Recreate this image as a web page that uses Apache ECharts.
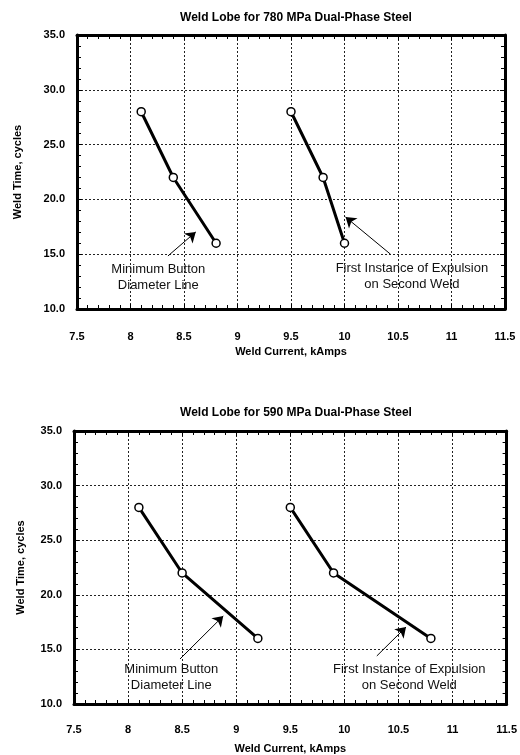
<!DOCTYPE html>
<html>
<head>
<meta charset="utf-8">
<script src="https://cdn.jsdelivr.net/npm/echarts@6/dist/echarts.min.js"></script>
<style>
html, body { margin: 0; padding: 0; background: #fff; }
#chart { width: 520px; height: 755px; }
</style>
</head>
<body>
<div id="chart"></div>
<script>
// chart data
var titles = ['Weld Lobe for 780 MPa Dual-Phase Steel', 'Weld Lobe for 590 MPa Dual-Phase Steel'];
var weldTime = [28, 22, 16];
var buttonCurrent780 = [8.1, 8.4, 8.8];
var expulsionCurrent780 = [9.5, 9.8, 10.0];
var buttonCurrent590 = [8.1, 8.5, 9.2];
var expulsionCurrent590 = [9.5, 9.9, 10.8];
var xTicks = [7.5, 8, 8.5, 9, 9.5, 10, 10.5, 11, 11.5];
var yTicks = [10, 15, 20, 25, 30, 35];
var noteButton = 'Minimum Button\nDiameter Line';
var noteExpulsion = 'First Instance of Expulsion\non Second Weld';
// annotation anchors in data units [x, y]
var textButton = [[8.26, 12.87], [8.40, 12.47]];
var textExpulsion = [[10.63, 12.95], [10.60, 12.47]];
var arrowButton = [[[8.35, 14.84], [8.61, 17.03]], [[8.48, 14.12], [8.88, 18.06]]];
var arrowExpulsion = [[[10.43, 15.0], [10.01, 18.39]], [[10.30, 14.40], [10.57, 17.05]]];

var FONT = '"Liberation Sans", Arial, sans-serif';

function pairs(xs, ys) {
    var out = [];
    for (var i = 0; i < xs.length; i++) out.push([xs[i], ys[i]]);
    return out;
}

var grids = [
    {left: 77, top: 35, width: 428, height: 274},
    {left: 74, top: 431, width: 434, height: 273}
];
var yNameGap = [54, 48];

var xAxes = [], yAxes = [], series = [];
var axisLine = {show: true, onZero: false, lineStyle: {color: '#000', width: 3}};

for (var g = 0; g < 2; g++) {
    // bottom x axis with labels and grid lines
    xAxes.push({
        type: 'value', gridIndex: g, position: 'bottom',
        min: xTicks[0], max: xTicks[xTicks.length - 1], interval: 0.5,
        name: 'Weld Current, kAmps', nameLocation: 'middle', nameGap: g ? 39 : 37,
        nameTextStyle: {fontFamily: FONT, fontWeight: 'bold', fontSize: 11, color: '#000'},
        axisLine: axisLine,
        axisTick: {show: true, inside: true, length: 5, lineStyle: {color: '#000'}},
        minorTick: {show: true, splitNumber: 5, length: 4, lineStyle: {color: '#000'}},
        axisLabel: {fontFamily: FONT, fontWeight: 'bold', fontSize: 11, color: '#000', margin: g ? 20 : 22},
        splitLine: {show: true, lineStyle: {color: '#222', type: [2, 2], width: 1}}
    });
    // top x axis, ticks only
    xAxes.push({
        type: 'value', gridIndex: g, position: 'top',
        min: xTicks[0], max: xTicks[xTicks.length - 1], interval: 0.5,
        axisLine: axisLine,
        axisTick: {show: true, inside: true, length: 5, lineStyle: {color: '#000'}},
        minorTick: {show: true, splitNumber: 5, length: 4, lineStyle: {color: '#000'}},
        axisLabel: {show: false},
        splitLine: {show: false}
    });
    yAxes.push({
        type: 'value', gridIndex: g, position: 'left',
        min: yTicks[0], max: yTicks[yTicks.length - 1], interval: 5,
        name: 'Weld Time, cycles', nameLocation: 'middle', nameGap: yNameGap[g],
        nameTextStyle: {fontFamily: FONT, fontWeight: 'bold', fontSize: 11, color: '#000'},
        axisLine: axisLine,
        axisTick: {show: true, inside: true, length: 5, lineStyle: {color: '#000'}},
        minorTick: {show: true, splitNumber: 5, length: 4, lineStyle: {color: '#000'}},
        axisLabel: {fontFamily: FONT, fontWeight: 'bold', fontSize: 11, color: '#000', margin: 12,
            formatter: function (v) { return v.toFixed(1); }},
        splitLine: {show: true, lineStyle: {color: '#222', type: [2, 2], width: 1}}
    });
    yAxes.push({
        type: 'value', gridIndex: g, position: 'right',
        min: yTicks[0], max: yTicks[yTicks.length - 1], interval: 5,
        axisLine: axisLine,
        axisTick: {show: true, inside: true, length: 5, lineStyle: {color: '#000'}},
        minorTick: {show: true, splitNumber: 5, length: 4, lineStyle: {color: '#000'}},
        axisLabel: {show: false},
        splitLine: {show: false}
    });
}

function lobeLine(g, xs, text, textPos, arrow) {
    return {
        type: 'line', xAxisIndex: g * 2, yAxisIndex: g * 2,
        data: pairs(xs, weldTime),
        symbol: 'circle', symbolSize: 8, showSymbol: true,
        itemStyle: {color: '#fff', borderColor: '#000', borderWidth: 1.5},
        lineStyle: {color: '#000', width: 3},
        animation: false, silent: true, z: 5,
        markLine: {
            silent: true, animation: false,
            symbol: ['none', 'arrow'], symbolSize: 10,
            lineStyle: {color: '#000', width: 1, type: 'solid'},
            itemStyle: {color: '#000'},
            label: {show: false},
            data: [[{coord: arrow[0]}, {coord: arrow[1]}]]
        },
        markPoint: {
            silent: true, animation: false,
            symbol: 'circle', symbolSize: 0,
            label: {show: true, position: 'inside', formatter: text,
                fontFamily: FONT, fontSize: 13, lineHeight: 16, color: '#111'},
            data: [{coord: textPos}]
        }
    };
}

series.push(lobeLine(0, buttonCurrent780, noteButton, textButton[0], arrowButton[0]));
series.push(lobeLine(0, expulsionCurrent780, noteExpulsion, textExpulsion[0], arrowExpulsion[0]));
series.push(lobeLine(1, buttonCurrent590, noteButton, textButton[1], arrowButton[1]));
series.push(lobeLine(1, expulsionCurrent590, noteExpulsion, textExpulsion[1], arrowExpulsion[1]));

var myChart = echarts.init(document.getElementById('chart'));
myChart.setOption({
    backgroundColor: '#fff',
    animation: false,
    title: [
        {text: titles[0], left: 291, top: 7, textAlign: 'center',
            textStyle: {fontFamily: FONT, fontWeight: 'bold', fontSize: 12, color: '#000'}},
        {text: titles[1], left: 291, top: 402, textAlign: 'center',
            textStyle: {fontFamily: FONT, fontWeight: 'bold', fontSize: 12, color: '#000'}}
    ],
    grid: grids,
    xAxis: xAxes,
    yAxis: yAxes,
    series: series
});
</script>
</body>
</html>
